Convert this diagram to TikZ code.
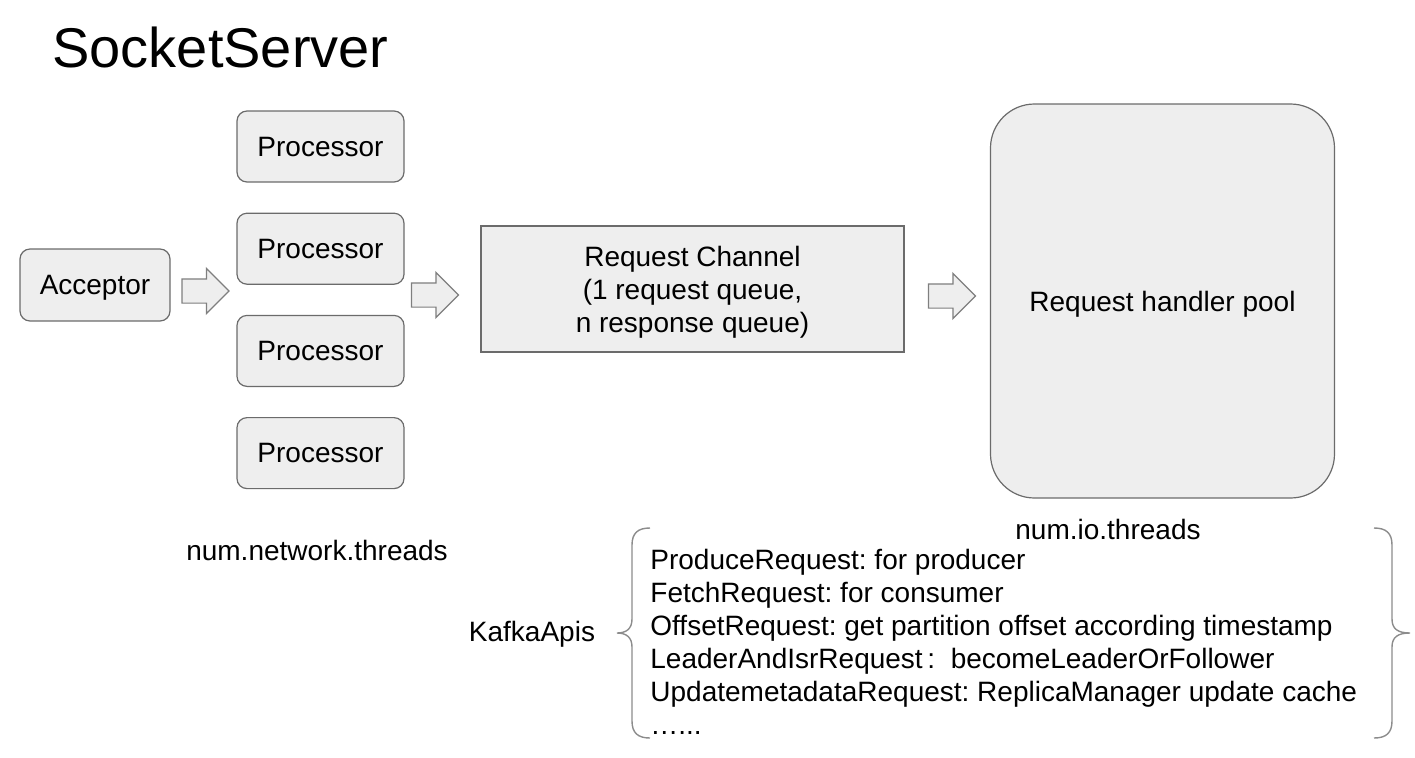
\documentclass[tikz,border=0pt]{standalone}
\usepackage{fontspec}
\setmainfont{Liberation Sans}
\frenchspacing
\usetikzlibrary{positioning,shapes.arrows}
\definecolor{SockFill}{HTML}{EEEEEE}
\definecolor{SockLine}{HTML}{6B6B6B}
\definecolor{SockArrow}{HTML}{7F7F7F}
\definecolor{SockBrace}{HTML}{8C8C8C}

\begin{document}
\begin{tikzpicture}[
  x=0.5pt, y=-0.5pt,
  every node/.style={font=\fontsize{14pt}{16.5pt}\selectfont, inner sep=0pt},
  box/.style={draw=SockLine, fill=SockFill, line width=0.6pt, rounded corners=#1, align=center, text depth=0pt},
  box/.default=5pt,
  proc/.style={box, minimum width=83.5pt, minimum height=35.5pt},
  fwd/.style={single arrow, draw=SockArrow, fill=SockFill, line width=0.6pt, minimum height=23.5pt, single arrow head extend=5.25pt},
  brace/.style={draw=SockBrace, line width=0.7pt}
]
\useasboundingbox (0,0) rectangle (1415,757);

\node[anchor=base west, font=\fontsize{28pt}{32pt}\selectfont] (title) at (52,67) {SocketServer};

\node[box, minimum width=75pt, minimum height=36pt] (acceptor) at (95,285) {Acceptor};

\node[proc] (proc1) at (320.5,146.5) {Processor};
\node[proc, below=15pt of proc1] (proc2) {Processor};
\node[proc, below=15pt of proc2] (proc3) {Processor};
\node[proc, below=15pt of proc3] (proc4) {Processor};

\node[box=0pt, minimum width=211.5pt, minimum height=63pt] (channel) at (692.5,289) {Request Channel\\(1 request queue,\\n response queue)};
\node[box=22pt, minimum width=172pt, minimum height=197pt] (pool) at (1162.5,301) {Request handler pool};

\node[fwd] (fwd1) at (199.5,291) {\rule{0pt}{11.5pt}};
\node[fwd] (fwd2) at (429,295) {\rule{0pt}{11.5pt}};
\node[fwd] (fwd3) at (946,296) {\rule{0pt}{11.5pt}};

\node[anchor=base] (netthreads) at (317,560) {num.network.threads};
\node[anchor=base] (iothreads) at (1108,539) {num.io.threads};
\node[anchor=base] (kafkaapis) at (532,641) {KafkaApis};

\node[anchor=base west, align=left] (apilist) at (650,734) {ProduceRequest: for producer\\FetchRequest: for consumer\\OffsetRequest: get partition offset according timestamp\\LeaderAndIsrRequest\,:\ \ becomeLeaderOrFollower\\UpdatemetadataRequest: ReplicaManager update cache\\…...};

% braces round the request list
\draw[brace] (650,528) .. controls (638,528) and (632,533) .. (632,545) -- (632,619)
  .. controls (632,629) and (626,633) .. (617,633) .. controls (626,633) and (632,637) .. (632,647)
  -- (632,721) .. controls (632,733) and (638,738) .. (650,738);
\draw[brace] (1374,528) .. controls (1386,528) and (1392,533) .. (1392,545) -- (1392,619)
  .. controls (1392,629) and (1398,633) .. (1410,633) .. controls (1398,633) and (1392,637) .. (1392,647)
  -- (1392,721) .. controls (1392,733) and (1386,738) .. (1374,738);
\end{tikzpicture}
\end{document}
